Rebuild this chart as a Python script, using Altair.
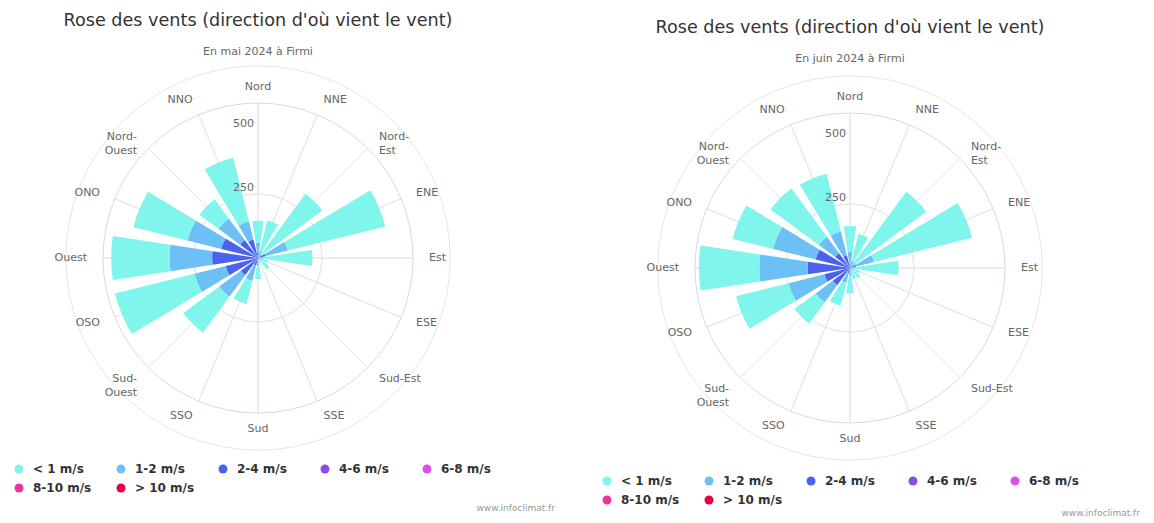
import math
import altair as alt
import pandas as pd

# ---------------- data ----------------
directions = ["Nord", "NNE", "Nord-Est", "ENE", "Est", "ESE", "Sud-Est", "SSE",
              "Sud", "SSO", "Sud-Ouest", "OSO", "Ouest", "ONO", "Nord-Ouest", "NNO"]
direction_labels = ["Nord", "NNE", "Nord-\nEst", "ENE", "Est", "ESE", "Sud-Est", "SSE",
                    "Sud", "SSO", "Sud-\nOuest", "OSO", "Ouest", "ONO", "Nord-\nOuest", "NNO"]
speed_classes = ["< 1 m/s", "1-2 m/s", "2-4 m/s", "4-6 m/s", "6-8 m/s", "8-10 m/s", "> 10 m/s"]
speed_colors = ["#7ff5ec", "#6cc0f5", "#4a62ee", "#8a4de8", "#df4df0", "#ee3399", "#e8003c"]
radial_ticks = [250, 500]
radial_max = 605

title_text = "Rose des vents (direction d'où vient le vent)"
subtitles = ["En mai 2024 à Firmi", "En juin 2024 à Firmi"]
credit_text = "www.infoclimat.fr"

# Mai 2024 (counts per speed class, per direction)
mai_lt1 = [86, 122, 292, 392, 192, 30, 45, 15, 52, 93, 174, 319, 228, 217, 93, 256]
mai_1_2 = [40, 25, 15, 90, 15, 7, 10, 5, 25, 62, 104, 126, 166, 136, 105, 73]
mai_2_4 = [20, 5, 5, 28, 5, 0, 0, 0, 5, 28, 80, 124, 164, 140, 82, 70]
mai_4_6 = [0, 0, 0, 2, 0, 0, 0, 0, 0, 2, 4, 6, 15, 8, 5, 4]

# Juin 2024
juin_lt1 = [102, 108, 345, 394, 170, 30, 38, 35, 69, 92, 102, 211, 236, 163, 234, 232]
juin_1_2 = [47, 25, 20, 72, 15, 10, 12, 10, 25, 40, 83, 144, 188, 171, 79, 97]
juin_2_4 = [15, 5, 5, 25, 5, 0, 0, 0, 5, 20, 80, 98, 156, 132, 68, 47]
juin_4_6 = [0, 0, 0, 0, 0, 0, 0, 0, 0, 0, 4, 5, 10, 6, 4, 3]

FONT = "DejaVu Sans"
W, H = 500, 500
HALF_WIDTH = 8.6  # half angular width of each bar, degrees

theta_scale = alt.Scale(domain=[0, 360], range=[0, 2 * math.pi])
r_scale = alt.Scale(type="linear", domain=[0, radial_max], range=[0, 155], zero=True)


def panel(lt1, v12, v24, v46, subtitle, cy, title_y, subtitle_y,
          legend_x, legend_y, credit_x, credit_y):
    step = 360 / len(directions)
    rows = []
    stack_order = [("4-6 m/s", v46), ("2-4 m/s", v24), ("1-2 m/s", v12), ("< 1 m/s", lt1)]
    for i, d in enumerate(directions):
        a = i * step
        base = 0
        for name, arr in stack_order:
            v = arr[i]
            if v > 0:
                rows.append(dict(direction=d, speed=name, t0=a - HALF_WIDTH, t1=a + HALF_WIDTH,
                                 r0=base, r1=base + v))
            base += v
    bars_df = pd.DataFrame(rows)

    lab_rows = []
    for i, lab in enumerate(direction_labels):
        a = i * step
        side = "c" if a in (0, 180) else ("r" if a < 180 else "l")
        lab_rows.append(dict(label=lab, angle=a, side=side))
    lab_df = pd.DataFrame(lab_rows)

    spokes_df = pd.DataFrame({"angle": [i * step for i in range(len(directions))],
                              "angle2": [i * step + 0.01 for i in range(len(directions))],
                              "r": [radial_max] * len(directions)})
    circles_df = pd.DataFrame({"r": radial_ticks})
    outer_df = pd.DataFrame({"r": [radial_max]})
    ticks_df = pd.DataFrame({"v": radial_ticks, "t": [str(t) for t in radial_ticks]})

    cx = alt.value(W / 2)
    cyv = alt.value(cy)

    circles = alt.Chart(circles_df).mark_arc(
        theta=0, theta2=2 * math.pi, fillOpacity=0, stroke="#e6e6e6", strokeWidth=1
    ).encode(radius=alt.Radius("r:Q", scale=r_scale), x=cx, y=cyv)

    spokes = alt.Chart(spokes_df).mark_arc(
        fillOpacity=0, stroke="#e6e6e6", strokeWidth=1
    ).encode(
        theta=alt.Theta("angle:Q", scale=theta_scale, stack=False),
        theta2="angle2:Q",
        radius=alt.Radius("r:Q", scale=r_scale),
        x=cx, y=cyv,
    )

    outer = alt.Chart(outer_df).mark_arc(
        theta=0, theta2=2 * math.pi, fillOpacity=0, stroke="#d3dbea", strokeWidth=1
    ).encode(radius=alt.Radius("r:Q", scale=r_scale), x=cx, y=cyv)

    bars = alt.Chart(bars_df).mark_arc(strokeWidth=0).encode(
        theta=alt.Theta("t0:Q", scale=theta_scale, stack=False),
        theta2="t1:Q",
        radius=alt.Radius("r1:Q", scale=r_scale),
        radius2="r0:Q",
        color=alt.Color(
            "speed:N",
            scale=alt.Scale(domain=speed_classes, range=speed_colors),
            legend=alt.Legend(
                title=None, orient="none", legendX=legend_x, legendY=legend_y,
                columns=5, gridAlign="all", direction="horizontal",
                symbolType="circle", symbolSize=80, symbolStrokeWidth=0,
                labelFont=FONT, labelFontSize=12, labelFontWeight="bold",
                labelColor="#333333", labelOffset=8, columnPadding=22, rowPadding=7,
                padding=0,
            ),
        ),
        x=cx, y=cyv,
    )

    def dir_text(side, align):
        return alt.Chart(lab_df).transform_filter(alt.datum.side == side).mark_text(
            font=FONT, fontSize=11, color="#666666", align=align, baseline="middle",
            lineBreak="\n", lineHeight=14,
        ).encode(
            theta=alt.Theta("angle:Q", scale=theta_scale, stack=False),
            radius=alt.value(171),
            text="label:N",
            x=cx, y=cyv,
        )

    tick_text = alt.Chart(ticks_df).mark_text(
        font=FONT, fontSize=11, color="#666666", align="right", baseline="bottom", dx=-4, dy=-1
    ).encode(
        theta=alt.value(0),
        radius=alt.Radius("v:Q", scale=r_scale),
        text="t:N",
        x=cx, y=cyv,
    )

    head_df = pd.DataFrame({"t": [title_text, subtitle], "kind": ["title", "subtitle"]})
    title_mark = alt.Chart(head_df).transform_filter(alt.datum.kind == "title").mark_text(
        font=FONT, fontSize=17.6, color="#333333", align="center", baseline="middle"
    ).encode(text="t:N", x=cx, y=alt.value(title_y))
    subtitle_mark = alt.Chart(head_df).transform_filter(alt.datum.kind == "subtitle").mark_text(
        font=FONT, fontSize=11, color="#666666", align="center", baseline="middle"
    ).encode(text="t:N", x=cx, y=alt.value(subtitle_y))

    credit = alt.Chart(pd.DataFrame({"c": [credit_text]})).mark_text(
        font=FONT, fontSize=9, color="#999999", align="right", baseline="middle"
    ).encode(text="c:N", x=alt.value(credit_x), y=alt.value(credit_y))

    return alt.layer(
        circles, spokes, outer, bars,
        dir_text("c", "center"), dir_text("r", "left"), dir_text("l", "right"),
        tick_text, title_mark, subtitle_mark, credit,
    ).properties(width=W, height=H)


left = panel(mai_lt1, mai_1_2, mai_2_4, mai_4_6, subtitles[0],
             cy=250, title_y=13, subtitle_y=43.5,
             legend_x=5, legend_y=455, credit_x=547, credit_y=500)
right = panel(juin_lt1, juin_1_2, juin_2_4, juin_4_6, subtitles[1],
              cy=260, title_y=20, subtitle_y=50.5,
              legend_x=1, legend_y=467, credit_x=540, credit_y=505)

chart = alt.hconcat(left, right, spacing=92, bounds="flush").resolve_legend(
    color="independent"
).properties(
    padding={"left": 0, "top": 0, "right": 0, "bottom": 0}
).configure_view(strokeWidth=0)

chart.save("out.html", embed_options={"renderer": "svg", "actions": False})
